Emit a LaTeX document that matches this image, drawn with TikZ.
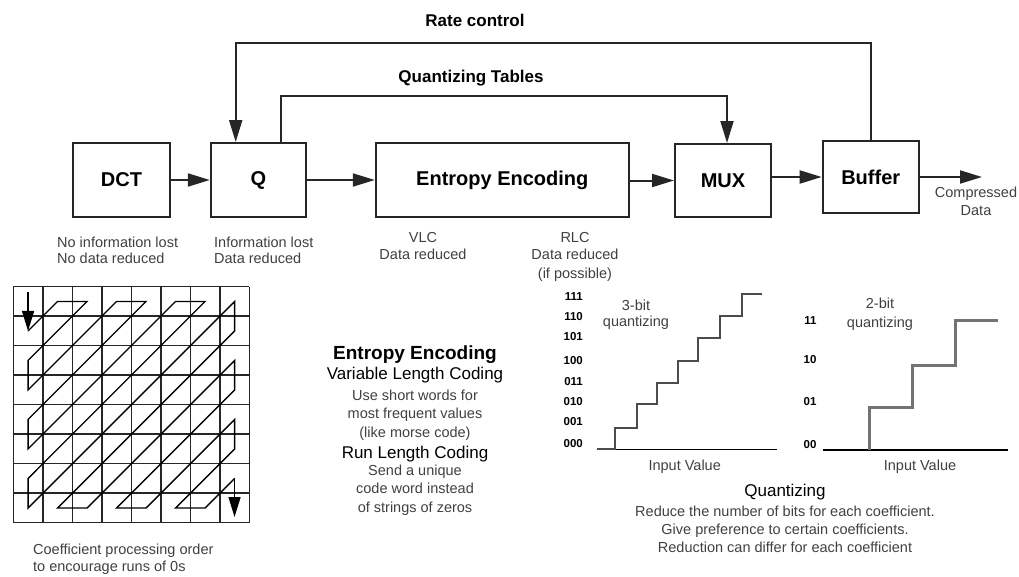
\documentclass[tikz,border=0pt]{standalone}
\usepackage{fontspec}
\setmainfont{Liberation Sans}
\usetikzlibrary{arrows.meta}
\begin{document}
\begin{tikzpicture}[x=1pt,y=-1pt,
  blk/.style={draw=black!85, line width=2, inner sep=0, minimum height=74,
    font=\fontsize{20}{24}\selectfont\bfseries},
  flow/.style={line width=2, draw=black!85, -{Triangle[length=22,width=13]}},
  note/.style={inner sep=0, text=black!75, font=\fontsize{14.5}{16.5}\selectfont},
  head/.style={inner sep=0, font=\fontsize{17}{20}\selectfont\bfseries},
  subhead/.style={inner sep=0, font=\fontsize{17}{20}\selectfont},
  lvl/.style={inner sep=0, font=\fontsize{11.5}{13}\selectfont\bfseries},
  gridline/.style={line width=1.5, draw=black!85},
  zz/.style={line width=1.4, draw=black, line join=miter},
  zzarrow/.style={line width=1.4, -{Triangle[length=20,width=12]}},
  stair/.style={line width=2.2, draw=black!70},
  axis/.style={line width=1.6, draw=black}]
\useasboundingbox (0,0) rectangle (1019,576);

% ---------- processing chain ----------
\node[blk, minimum width=97] (dct) at (121.5,180) {DCT};
\node[blk, minimum width=95] (q) at (258.3,180) {Q};
\node[blk, minimum width=253] (ent) at (502.3,180) {Entropy Encoding};
\node[blk, minimum width=96, minimum height=73] (mux) at (723,180.5) {MUX};
\node[blk, minimum width=96, minimum height=72] (buf) at (870.7,177) {Buffer};
\coordinate (out) at (982,177);

\draw[flow] (dct) -- (q);
\draw[flow] (q) -- (ent);
\draw[flow] (ent.east |- mux.west) -- (mux.west);
\draw[flow] (mux.east |- buf.west) -- (buf.west);
\draw[flow] (buf.east) -- (out);

% feedback paths
\coordinate (rc1) at (871,42.7);
\coordinate (rc2) at (235.7,42.7);
\coordinate (qt1) at (281,95.7);
\coordinate (qt2) at (727,95.7);
\draw[flow] (buf.north -| rc1) -- (rc1) -- (rc2) -- (q.north -| rc2);
\draw[flow] (q.north -| qt1) -- (qt1) -- (qt2) -- (mux.north -| qt2);
\node[head, anchor=base] (rclab) at (475,26) {Rate control};
\node[head, anchor=base] (qtlab) at (471,82) {Quantizing Tables};

% notes under the blocks
\node[note, anchor=base west] (n1a) at (57,247) {No information lost};
\node[note, anchor=base west] (n1b) at (57,263) {No data reduced};
\node[note, anchor=base west] (n2a) at (214,247) {Information lost};
\node[note, anchor=base west] (n2b) at (214,263) {Data reduced};
\node[note, anchor=base] (n3a) at (423,242) {VLC};
\node[note, anchor=base] (n3b) at (423,259) {Data reduced};
\node[note, anchor=base] (n4a) at (575,242) {RLC};
\node[note, anchor=base] (n4b) at (575,259) {Data reduced};
\node[note, anchor=base] (n4c) at (575,278) {(if possible)};
\node[note, anchor=base] (n5a) at (976,197) {Compressed};
\node[note, anchor=base] (n5b) at (976,215) {Data};

% ---------- zigzag scan over an 8x8 block ----------
\foreach \k in {0,...,8} {
  \draw[gridline] ({13.3+29.5*\k},286.7) -- ({13.3+29.5*\k},522.7);
  \draw[gridline] (13.3,{286.7+29.5*\k}) -- (249.3,{286.7+29.5*\k});
}
\foreach \r in {0,...,7} {
  \foreach \c in {0,...,7} {
    \coordinate (z\r\c) at ({13.3+29.5*(\c+0.5)},{286.7+29.5*(\r+0.5)});
  }
}
\coordinate (zs) at (28.05,291.5);
\coordinate (ze) at (234.55,517);
\draw[zzarrow] (zs) -- (z10);
\draw[zz] (z10) -- (z01) -- (z02) -- (z20) -- (z30) -- (z03) -- (z04) -- (z40)
  -- (z50) -- (z05) -- (z06) -- (z60) -- (z70) -- (z07) -- (z17) -- (z71)
  -- (z72) -- (z27) -- (z37) -- (z73) -- (z74) -- (z47) -- (z57) -- (z75)
  -- (z76) -- (z67);
\draw[zzarrow] (z67) -- (ze);
\node[note, anchor=base west] (c1) at (33,554) {Coefficient processing order};
\node[note, anchor=base west] (c2) at (33,571) {to encourage runs of 0s};

% ---------- entropy encoding description ----------
\node[inner sep=0, font=\fontsize{19}{22}\selectfont\bfseries, anchor=base] (e1) at (415,359) {Entropy Encoding};
\node[subhead, anchor=base] (e2) at (415,379) {Variable Length Coding};
\node[note, anchor=base] (e3) at (415,400) {Use short words for};
\node[note, anchor=base] (e4) at (415,418) {most frequent values};
\node[note, anchor=base] (e5) at (415,437) {(like morse code)};
\node[subhead, anchor=base] (e6) at (415,458) {Run Length Coding};
\node[note, anchor=base] (e7) at (415,475) {Send a unique};
\node[note, anchor=base] (e8) at (415,493) {code word instead};
\node[note, anchor=base] (e9) at (415,512) {of strings of zeros};

% ---------- 3-bit quantizer ----------
\draw[axis] (596.7,449.3) -- (777,449.3);
\draw[stair] (596.7,449.3) -- (615,449.3) -- (615,427.7) -- (636.7,427.7)
  -- (636.7,404) -- (656.7,404) -- (656.7,383.3) -- (677.7,383.3)
  -- (677.7,360.7) -- (698.3,360.7) -- (698.3,338.3) -- (720,338.3)
  -- (720,316) -- (741.7,316) -- (741.7,294.3) -- (762.3,294.3);
\foreach \lab/\y [count=\i] in {111/296.7,110/316.7,101/336.7,100/360,011/381.7,010/401.7,001/421.7,000/443} {
  \node[lvl, anchor=base east] (a\i) at (583,\y+4.2) {\lab};
}
\node[note, anchor=base] (t3a) at (636,310) {3-bit};
\node[note, anchor=base] (t3b) at (636,326) {quantizing};
\node[note, anchor=base] (x3) at (684.7,470) {Input Value};

% ---------- 2-bit quantizer ----------
\draw[axis] (823.3,450) -- (1008.3,450);
\draw[stair, draw=black!55, line width=3] (869.3,450) -- (869.3,407.3) -- (912.3,407.3)
  -- (912.3,365) -- (955.7,365) -- (955.7,320.7) -- (998.3,320.7);
\foreach \lab/\y [count=\i] in {11/320,10/359,01/401.7,00/444} {
  \node[lvl, anchor=base east] (b\i) at (816.7,\y+4.2) {\lab};
}
\node[note, anchor=base] (t2a) at (880,308) {2-bit};
\node[note, anchor=base] (t2b) at (880,327) {quantizing};
\node[note, anchor=base] (x2) at (920,470) {Input Value};

% ---------- quantizing description ----------
\node[subhead, anchor=base] (qd1) at (785,496) {Quantizing};
\node[note, anchor=base] (qd2) at (785,516) {Reduce the number of bits for each coefficient.};
\node[note, anchor=base] (qd3) at (785,534) {Give preference to certain coefficients.};
\node[note, anchor=base] (qd4) at (785,552) {Reduction can differ for each coefficient};
\end{tikzpicture}
\end{document}
